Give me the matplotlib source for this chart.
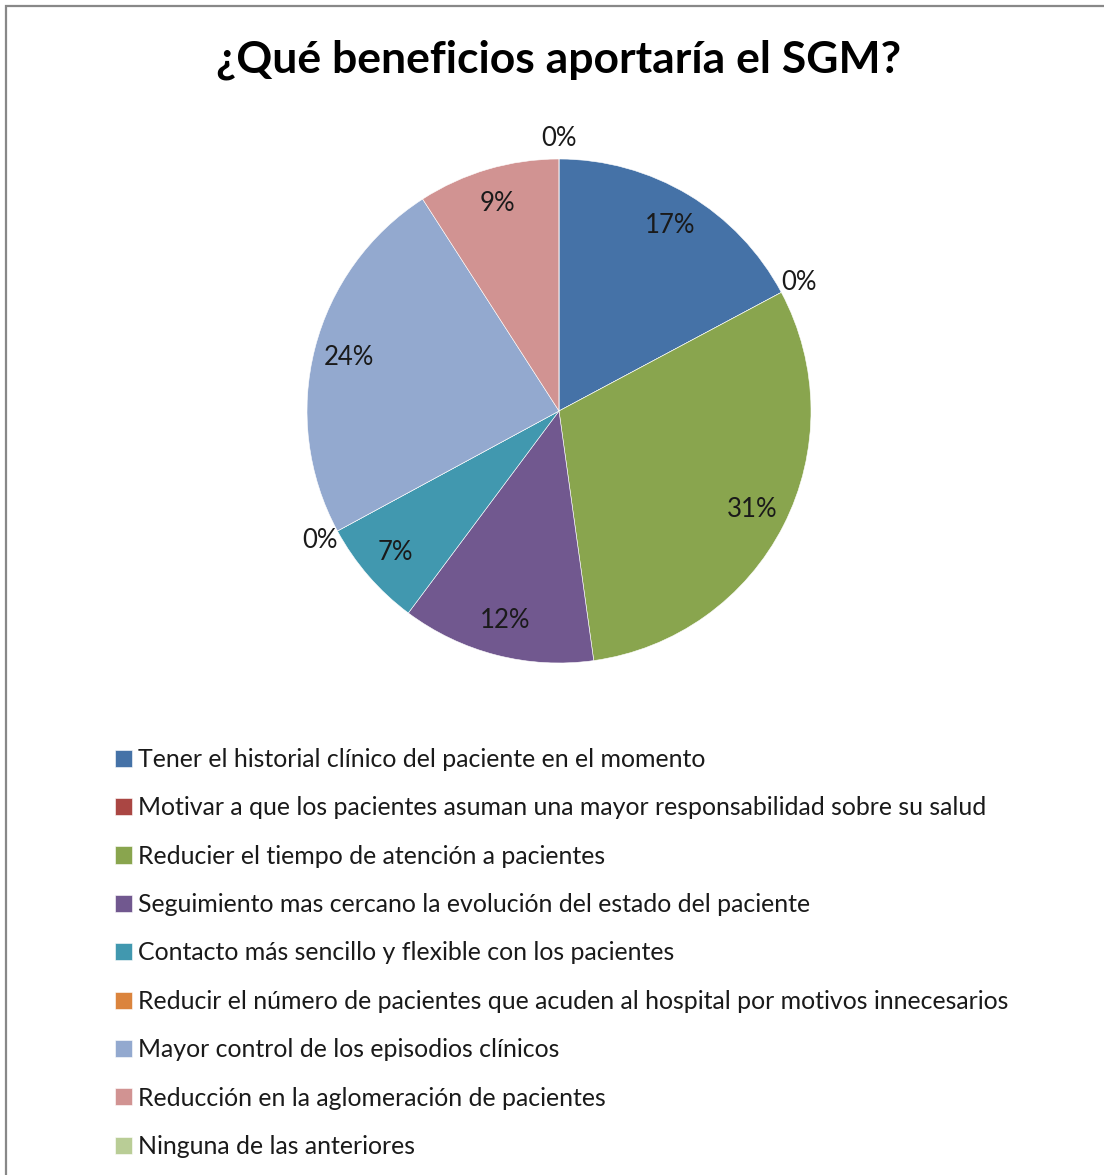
import numpy as np
import matplotlib.pyplot as plt
from matplotlib.patches import Rectangle

plt.rcParams['font.family'] = ['Lato', 'DejaVu Sans']

# share of answers (percent)
categories = [
    "Tener el historial clínico del paciente en el momento",
    "Motivar a que los pacientes asuman una mayor responsabilidad sobre su salud",
    "Reducier el tiempo de atención a pacientes",
    "Seguimiento mas cercano la evolución del estado del paciente",
    "Contacto más sencillo y flexible con los pacientes",
    "Reducir el número de pacientes que acuden al hospital por motivos innecesarios",
    "Mayor control de los episodios clínicos",
    "Reducción en la aglomeración de pacientes",
    "Ninguna de las anteriores",
]
values = [17.2, 0, 30.6, 12.4, 6.9, 0, 23.8, 9.1, 0]
colors = ["#4572A7", "#AA4643", "#89A54E", "#71588F", "#4198AF",
          "#DB843D", "#93A9CF", "#D19392", "#B9CD96"]
title = "¿Qué beneficios aportaría el SGM?"

W, H = 1104, 1175
fig = plt.figure(figsize=(W / 100, H / 100), dpi=100)

# chart frame (runs off the right and bottom edges like the screenshot)
fig.patches.append(Rectangle((6 / W, -0.01), 1.1, 1 - 6 / H + 0.01,
                             transform=fig.transFigure, fill=False,
                             edgecolor="#888888", linewidth=1.6))

fig.text(559 / W, 1 - 60 / H, title, ha="center", va="center",
         fontsize=32, fontweight="bold", color="black")

# pie axes: centre (559, 411) px, radius 252 px
cx, cy, r = 559, 411, 252
ax = fig.add_axes([(cx - r) / W, (H - cy - r) / H, 2 * r / W, 2 * r / H])

zero_labels = ["0%" if v == 0 else "" for v in values]
wedges, texts, autotexts = ax.pie(
    values, colors=colors, startangle=90, counterclock=False,
    labels=zero_labels, labeldistance=1.08,
    autopct=lambda p: "" if p == 0 else "%.0f%%" % p, pctdistance=0.86,
    wedgeprops=dict(edgecolor="white", linewidth=0.4),
    textprops=dict(fontsize=18.5, color="#1a1a1a"))
for t in texts:
    t.set_horizontalalignment("center")
    t.set_verticalalignment("center")
ax.set_xlim(-1, 1)
ax.set_ylim(-1, 1)
ax.set_aspect("equal")

fig.legend(wedges, categories, loc="upper left",
           bbox_to_anchor=(115 / W, 1 - 748 / H), frameon=False,
           fontsize=17.9, borderpad=0, borderaxespad=0,
           handlelength=0.68, handleheight=0.68, handletextpad=0.24,
           labelspacing=1.02, labelcolor="#1a1a1a")

fig.savefig("out.png", dpi=100)
